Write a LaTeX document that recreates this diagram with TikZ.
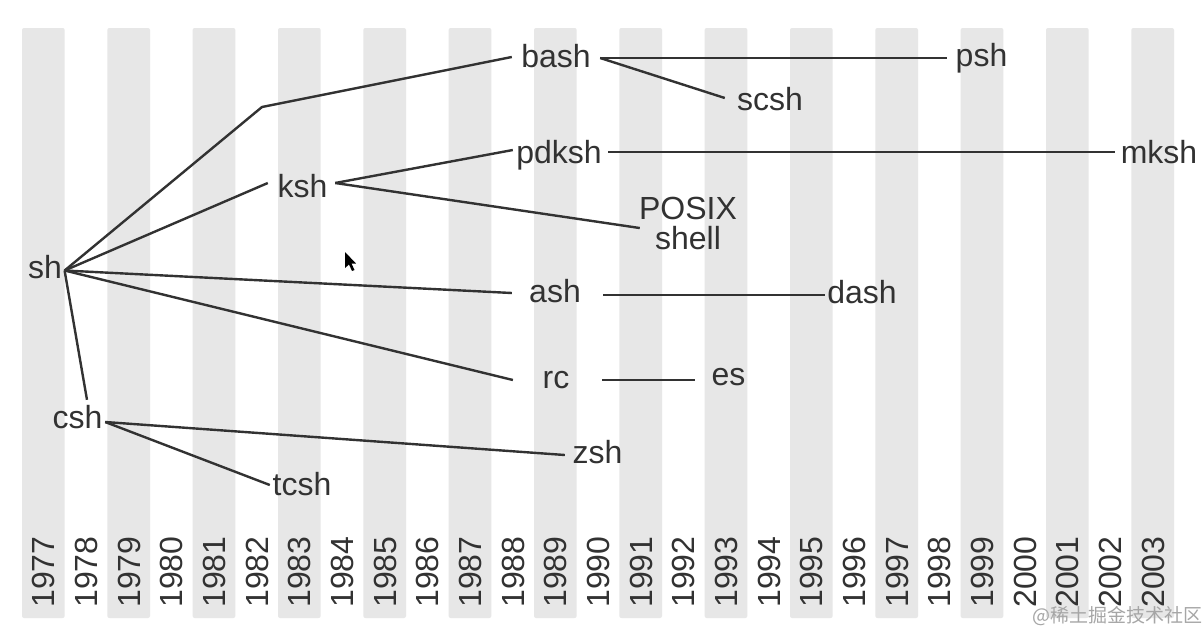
\documentclass[tikz,border=0pt]{standalone}
\usepackage{fontspec}
\setmainfont{Liberation Sans}
\newfontfamily\cjkfont{Noto Sans CJK SC}
\definecolor{stripe}{RGB}{231,231,231}
\definecolor{ink}{RGB}{50,50,50}
\begin{document}
\begin{tikzpicture}[x=1pt,y=-1pt,
  shellname/.style={font=\fontsize{32}{30}\selectfont, text=ink, inner sep=0pt, text height=23pt, text depth=0pt, anchor=base},
  posixname/.style={font=\fontsize{32}{30}\selectfont, text=ink, inner sep=0pt, align=center, anchor=north},
  yearlbl/.style={font=\fontsize{32}{30}\selectfont, text=ink, inner sep=0pt, rotate=90, text height=23pt, text depth=0pt},
  link/.style={draw=ink, line width=2.4pt, line join=round},
  band/.style={fill=stripe, rounded corners=2pt}]
\useasboundingbox (0,0) rectangle (1204,633);
\fill[white] (0,0) rectangle (1204,633);
% stripes
\foreach \i in {0,...,13} \fill[band] ({22+85.333*\i},28) rectangle ++(42.67,590);
% years
\foreach \i in {0,...,26} {
  \pgfmathtruncatemacro\yr{1977+\i}
  \node[yearlbl] (y\yr) at ({43.33+42.667*\i},572) {\yr};
}
% shells
\node[shellname] (sh) at (45,278) {sh};
\node[shellname] (ksh) at (302.5,197) {ksh};
\node[shellname] (bash) at (556,67) {bash};
\node[shellname] (scsh) at (770,110) {scsh};
\node[shellname] (psh) at (981.5,66) {psh};
\node[shellname] (pdksh) at (559,163) {pdksh};
\node[shellname] (mksh) at (1159,163) {mksh};
\node[posixname] (posix) at (688,197) {POSIX\\shell};
\node[shellname] (ash) at (555,302) {ash};
\node[shellname] (dash) at (862,303) {dash};
\node[shellname] (rc) at (556,388) {rc};
\node[shellname] (es) at (728.5,385) {es};
\node[shellname] (zsh) at (597.5,463) {zsh};
\node[shellname] (csh) at (77.5,428) {csh};
\node[shellname] (tcsh) at (302,495) {tcsh};
% connectors
\coordinate (bend) at (262,107);
\draw[link] ([xshift=2.5pt,yshift=-4pt]sh.east) -- (bend) -- ([xshift=-9.3pt,yshift=-1.5pt]bash.west);
\draw[link] ([xshift=2.5pt,yshift=-4pt]sh.east) -- ([xshift=-9.6pt,yshift=2.5pt]ksh.west);
\draw[link] ([xshift=2.5pt,yshift=-4pt]sh.east) -- ([xshift=-17.2pt,yshift=-2.5pt]ash.west);
\draw[link] ([xshift=2.5pt,yshift=-4pt]sh.east) -- ([xshift=-29.6pt,yshift=-3.5pt]rc.west);
\draw[link] ([xshift=2.5pt,yshift=-4pt]sh.east) -- ([xshift=9.5pt,yshift=5pt]csh.north);
\draw[link] ([xshift=2.6pt,yshift=-5.5pt]csh.east) -- ([xshift=-7.6pt,yshift=-3.5pt]zsh.west);
\draw[link] ([xshift=2.6pt,yshift=-5.5pt]csh.east) -- ([xshift=-2.65pt,yshift=-1.5pt]tcsh.west);
\draw[link] ([xshift=7.6pt,yshift=2.5pt]ksh.east) -- ([xshift=-3.3pt,yshift=1.5pt]pdksh.west);
\draw[link] ([xshift=7.6pt,yshift=2.5pt]ksh.east) -- ([xshift=0.9pt,yshift=-4.5pt]posix.west);
\draw[link] ([xshift=9.3pt,yshift=-2.5pt]bash.east) -- ([xshift=-8.7pt,yshift=-3.5pt]psh.west);
\draw[link] ([xshift=9.3pt,yshift=-2.5pt]bash.east) -- ([xshift=-12.1pt,yshift=0.5pt]scsh.west);
\draw[link] ([xshift=6.3pt,yshift=-0.5pt]pdksh.east) -- ([xshift=-5.8pt,yshift=-0.5pt]mksh.west);
\draw[link] ([xshift=22.2pt,yshift=-4.5pt]ash.east) -- ([xshift=-2.3pt,yshift=-3.5pt]dash.west);
\draw[link] ([xshift=32.6pt,yshift=-3.5pt]rc.east) -- ([xshift=-16.6pt,yshift=-6.5pt]es.west);
% cursor
\fill[black] (345,252) -- (345,268) -- (349,264.5) -- (352,271) -- (354.5,270) -- (351.5,263.5) -- (356,263.5) -- cycle;
% watermark
\node[font=\cjkfont\fontsize{19}{19}\selectfont, text=gray!70, anchor=base, inner sep=0pt] (wm) at (1117,622) {@稀土掘金技术社区};
\end{tikzpicture}
\end{document}
